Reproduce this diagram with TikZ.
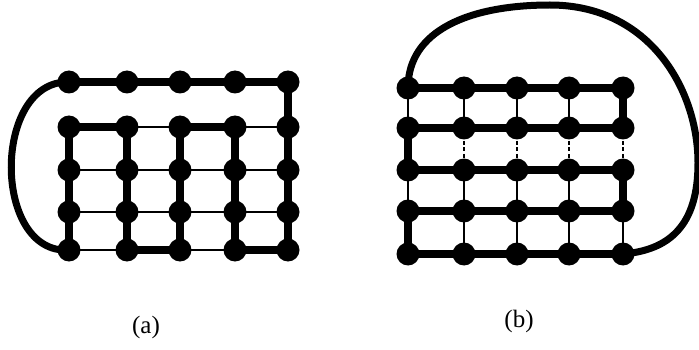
\documentclass[tikz,border=0pt]{standalone}
\usepackage{fontspec}
\setmainfont{Liberation Serif}
\usetikzlibrary{backgrounds}
\begin{document}
\begin{tikzpicture}[x=1pt,y=-1pt,
  dot/.style={circle,fill=black,inner sep=0pt,minimum size=23pt},
  thinedge/.style={line width=2.6pt},
  thickedge/.style={line width=8pt,line join=round},
  dashedge/.style={line width=2.4pt,dash pattern=on 4pt off 2.5pt},
  loopedge/.style={line width=7pt,line cap=round},
  lbl/.style={font=\fontsize{25}{30}\selectfont,inner sep=0pt}]
\useasboundingbox (0,0) rectangle (699,350);
% ---------- graph (a) ----------
\foreach \x [count=\i] in {69,127,180,235,288}
  \foreach \y [count=\j] in {82,127,170,212,250}
    \node[dot] (a\i\j) at (\x,\y) {};
% ---------- graph (b) ----------
\foreach \x [count=\i] in {408,464,517,569,623}
  \foreach \y [count=\j] in {88,128,170,211,254}
    \node[dot] (b\i\j) at (\x,\y) {};
\begin{scope}[on background layer]
  % (a) thin grid
  \foreach \i [evaluate=\i as \k using int(\i+1)] in {1,2,3,4}
    \foreach \j in {1,...,5}
      \draw[thinedge] (a\i\j.center) -- (a\k\j.center);
  \foreach \i in {1,...,5}
    \foreach \j [evaluate=\j as \k using int(\j+1)] in {1,2,3,4}
      \draw[thinedge] (a\i\j.center) -- (a\i\k.center);
  % (a) thick cycle
  \draw[thickedge] (a11.center) -- (a51.center) -- (a55.center) -- (a45.center)
    -- (a42.center) -- (a32.center) -- (a35.center) -- (a25.center)
    -- (a22.center) -- (a12.center) -- (a15.center);
  \draw[loopedge] (a15.center) .. controls (-8,255) and (-8,80) .. (a11.center);
  % (b) horizontal thick rows
  \foreach \j in {1,...,5}
    \draw[thickedge] (b1\j.center) -- (b5\j.center);
  % (b) verticals
  \foreach \i in {1,...,4}
    \draw[thinedge] (b\i1.center) -- (b\i2.center);
  \foreach \i in {2,3,4,5}
    \draw[dashedge] (b\i2.center) -- (b\i3.center);
  \foreach \i in {1,...,4}
    \draw[thinedge] (b\i3.center) -- (b\i4.center);
  \foreach \i in {2,3,4,5}
    \draw[thinedge] (b\i4.center) -- (b\i5.center);
  \draw[thickedge] (b12.center) -- (b13.center);
  \draw[thickedge] (b14.center) -- (b15.center);
  \draw[thickedge] (b51.center) -- (b52.center);
  \draw[thickedge] (b53.center) -- (b54.center);
  \draw[loopedge] (b11.center) .. controls (408,30) and (470,5) .. (550,5)
    .. controls (650,5) and (698,90) .. (698,163)
    .. controls (698,225) and (670,250) .. (b55.center);
\end{scope}
% ---------- labels ----------
\node[lbl] (la) at (146,327) {(a)};
\node[lbl] (lb) at (519,321) {(b)};
\end{tikzpicture}
\end{document}
